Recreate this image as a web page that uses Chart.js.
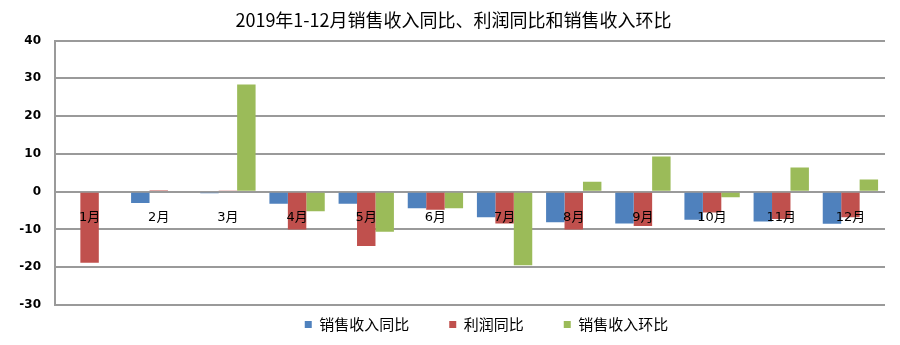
<!DOCTYPE html>
<html>
<head>
<meta charset="utf-8">
<script src="https://cdn.jsdelivr.net/npm/chart.js@4/dist/chart.umd.min.js"></script>
<style>
html,body{margin:0;padding:0;background:#fff;}
#wrap{width:900px;height:345px;position:relative;}
</style>
</head>
<body>
<div id="wrap"><canvas id="c" width="900" height="345"></canvas></div>
<script>
const categories = ['1月','2月','3月','4月','5月','6月','7月','8月','9月','10月','11月','12月'];
const salesYoY = [0, -3.0, -0.4, -3.2, -3.2, -4.4, -6.8, -8.1, -8.4, -7.4, -7.9, -8.5];
const profitYoY = [-18.8, 0.4, 0.3, -10.0, -14.4, -4.8, -8.4, -10.0, -9.1, -5.5, -7.2, -6.8];
const salesMoM = [0, 0, 28.4, -5.2, -10.6, -4.4, -19.5, 2.6, 9.3, -1.5, 6.4, 3.2];
const seriesNames = ['销售收入同比','利润同比','销售收入环比'];
const yTicks = [40, 30, 20, 10, 0, -10, -20, -30];
const titleText = '2019年1-12月销售收入同比、利润同比和销售收入环比';

const CJK = '"Noto Sans CJK SC", "DejaVu Sans", sans-serif';
const gridColor = '#9a9a9a';

// move the legend row and the title to their places
const blockPlacer = {
  id: 'blockPlacer',
  afterLayout(chart) {
    const lg = chart.legend;
    if (lg) {
      const dy = 277 - lg.top;
      lg.top += dy; lg.bottom += dy;
      lg.left += 44; lg.right += 44;
    }
    const tb = chart.titleBlock;
    if (tb) { tb.left += 11; tb.right += 11; }
  }
};

new Chart(document.getElementById('c'), {
  type: 'bar',
  data: {
    labels: categories,
    datasets: [
      {label: seriesNames[0], data: salesYoY, backgroundColor: '#4F81BD'},
      {label: seriesNames[1], data: profitYoY, backgroundColor: '#C0504D'},
      {label: seriesNames[2], data: salesMoM, backgroundColor: '#9BBB59'}
    ]
  },
  plugins: [blockPlacer],
  options: {
    responsive: false,
    animation: false,
    devicePixelRatio: 1,
    layout: {padding: {left: 0, right: 15, top: 0, bottom: -25}},
    datasets: {bar: {barPercentage: 1, categoryPercentage: 0.8}},
    scales: {
      x: {
        position: {y: 0},
        grid: {display: false, drawTicks: false},
        border: {display: false},
        ticks: {
          z: 1,
          padding: 18,
          color: '#000',
          maxRotation: 0,
          autoSkip: false,
          font: {family: '"DejaVu Sans", "Noto Sans CJK SC", sans-serif', size: 13}
        }
      },
      y: {
        min: -30, max: 40,
        afterFit: s => { s.width = 55; },
        afterBuildTicks: s => { s.ticks = yTicks.map(v => ({value: v})); },
        grid: {color: gridColor, lineWidth: 2, drawTicks: false},
        border: {display: true, color: gridColor, width: 2},
        ticks: {
          padding: 14,
          color: '#000',
          font: {family: '"DejaVu Sans", sans-serif', size: 12, weight: 'bold'}
        }
      }
    },
    plugins: {
      title: {
        display: true,
        text: titleText,
        color: '#000',
        font: {family: CJK, size: 18, weight: 'normal'},
        padding: {top: 9, bottom: 10}
      },
      legend: {
        position: 'bottom',
        labels: {
          boxWidth: 7,
          boxHeight: 7,
          padding: 40,
          color: '#000',
          font: {family: CJK, size: 15}
        }
      },
      tooltip: {enabled: false}
    }
  }
});
</script>
</body>
</html>
